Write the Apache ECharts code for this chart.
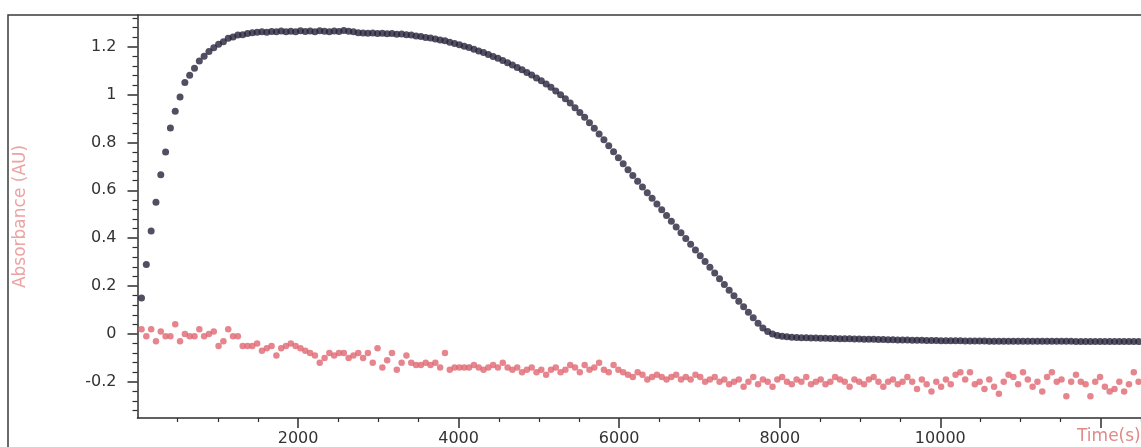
<!DOCTYPE html>
<html>
<head>
<meta charset="utf-8">
<script src="https://cdn.jsdelivr.net/npm/echarts@6/dist/echarts.min.js"></script>
<style>
  html, body { margin: 0; padding: 0; background: #fff; }
  #chart { width: 1141px; height: 447px; }
</style>
</head>
<body>
<div id="chart"></div>
<script>
// readings taken every 60 s, first one at 50 s
const firstTime = 50
const sampleStep = 60

// dark series (absorbance, AU)
const sampleA = [
  0.15, 0.29, 0.43, 0.55, 0.665, 0.76, 0.86, 0.93, 0.99, 1.05,
  1.08, 1.11, 1.14, 1.16, 1.18, 1.195, 1.21, 1.22, 1.235, 1.24,
  1.248, 1.25, 1.255, 1.258, 1.26, 1.262, 1.26, 1.263, 1.262, 1.265,
  1.262, 1.264, 1.262, 1.266, 1.263, 1.265, 1.262, 1.266, 1.264, 1.262,
  1.265, 1.263, 1.267, 1.264, 1.262, 1.258, 1.257, 1.256, 1.257, 1.255,
  1.256, 1.254, 1.255, 1.252, 1.253, 1.25, 1.248, 1.244, 1.242, 1.238,
  1.236, 1.232, 1.228, 1.224, 1.218, 1.213, 1.208, 1.202, 1.196, 1.189,
  1.182, 1.175, 1.167, 1.159, 1.151, 1.142, 1.133, 1.123, 1.113, 1.103,
  1.092, 1.081, 1.069, 1.057, 1.044, 1.03, 1.015, 0.999, 0.982, 0.964,
  0.945, 0.925, 0.905, 0.882, 0.859, 0.835, 0.811, 0.786, 0.761, 0.736,
  0.711, 0.686, 0.662, 0.638, 0.614, 0.59, 0.567, 0.543, 0.519, 0.495,
  0.471, 0.447, 0.423, 0.399, 0.375, 0.351, 0.327, 0.303, 0.279, 0.255,
  0.231, 0.207, 0.183, 0.16, 0.137, 0.114, 0.091, 0.068, 0.045, 0.025,
  0.01, 0.0, -0.006, -0.01, -0.012, -0.014, -0.015, -0.016, -0.016, -0.017,
  -0.017, -0.018, -0.018, -0.019, -0.019, -0.02, -0.02, -0.02, -0.021, -0.021,
  -0.022, -0.022, -0.022, -0.023, -0.023, -0.024, -0.024, -0.025, -0.025, -0.025,
  -0.026, -0.026, -0.026, -0.027, -0.027, -0.027, -0.028, -0.028, -0.028, -0.028,
  -0.028, -0.029, -0.029, -0.029, -0.029, -0.029, -0.03, -0.03, -0.03, -0.03,
  -0.03, -0.03, -0.03, -0.03, -0.031, -0.031, -0.031, -0.031, -0.031, -0.031,
  -0.031, -0.031, -0.031, -0.031, -0.032, -0.032, -0.032, -0.032, -0.032, -0.032,
  -0.032, -0.032, -0.032, -0.032, -0.032, -0.032, -0.032, -0.032
]

// red series (blank)
const sampleB = [
  0.02, -0.01, 0.02, -0.03, 0.01, -0.01, -0.01, 0.04, -0.03, 0.0,
  -0.01, -0.01, 0.02, -0.01, 0.0, 0.01, -0.05, -0.03, 0.02, -0.01,
  -0.01, -0.05, -0.05, -0.05, -0.04, -0.07, -0.06, -0.05, -0.09, -0.06,
  -0.05, -0.04, -0.05, -0.06, -0.07, -0.08, -0.09, -0.12, -0.1, -0.08,
  -0.09, -0.08, -0.08, -0.1, -0.09, -0.08, -0.1, -0.08, -0.12, -0.06,
  -0.14, -0.11, -0.08, -0.15, -0.12, -0.09, -0.12, -0.13, -0.13, -0.12,
  -0.13, -0.12, -0.14, -0.08, -0.15, -0.14, -0.14, -0.14, -0.14, -0.13,
  -0.14, -0.15, -0.14, -0.13, -0.14, -0.12, -0.14, -0.15, -0.14, -0.16,
  -0.15, -0.14, -0.16, -0.15, -0.17, -0.15, -0.14, -0.16, -0.15, -0.13,
  -0.14, -0.16, -0.13, -0.15, -0.14, -0.12, -0.15, -0.16, -0.13, -0.15,
  -0.16, -0.17, -0.18, -0.16, -0.17, -0.19, -0.18, -0.17, -0.18, -0.19,
  -0.18, -0.17, -0.19, -0.18, -0.19, -0.17, -0.18, -0.2, -0.19, -0.18,
  -0.2, -0.19, -0.21, -0.2, -0.19, -0.22, -0.2, -0.18, -0.21, -0.19,
  -0.2, -0.22, -0.19, -0.18, -0.2, -0.21, -0.19, -0.2, -0.18, -0.21,
  -0.2, -0.19, -0.21, -0.2, -0.18, -0.19, -0.2, -0.22, -0.19, -0.2,
  -0.21, -0.19, -0.18, -0.2, -0.22, -0.2, -0.19, -0.21, -0.2, -0.18,
  -0.2, -0.23, -0.19, -0.21, -0.24, -0.2, -0.22, -0.19, -0.21, -0.17,
  -0.16, -0.19, -0.16, -0.21, -0.2, -0.23, -0.19, -0.22, -0.25, -0.2,
  -0.17, -0.18, -0.21, -0.16, -0.19, -0.22, -0.2, -0.24, -0.18, -0.16,
  -0.2, -0.19, -0.26, -0.2, -0.17, -0.2, -0.21, -0.26, -0.2, -0.18,
  -0.22, -0.24, -0.23, -0.2, -0.24, -0.21, -0.16, -0.2
]

// axis ticks
const xLabels = [2000, 4000, 6000, 8000, 10000]
const xMajor = [2000, 4000, 6000, 8000, 10000, 12000]
const xMinor = [500, 1000, 1500, 2500, 3000, 3500, 4500, 5000, 5500, 6500, 7000, 7500,
  8500, 9000, 9500, 10500, 11000, 11500, 12500]
const yMajor = [-0.2, 0, 0.2, 0.4, 0.6, 0.8, 1, 1.2]
const yMinor = [-0.32, -0.28, -0.24, -0.16, -0.12, -0.08, -0.04, 0.04, 0.08, 0.12, 0.16,
  0.24, 0.28, 0.32, 0.36, 0.44, 0.48, 0.52, 0.56, 0.64, 0.68, 0.72, 0.76,
  0.84, 0.88, 0.92, 0.96, 1.04, 1.08, 1.12, 1.16, 1.24, 1.28, 1.32]

const toPairs = (vals) => vals.map((v, i) => [firstTime + i * sampleStep, v])

const xMin = 0
const xMax = 12500
const yMin = -0.351
const yMax = 1.332

const labelFont = { fontFamily: 'DejaVu Sans', fontSize: 16, color: '#333' }
const axisColor = '#2e2e2e'

const chart = echarts.init(document.getElementById('chart'))
chart.setOption({
  animation: false,
  backgroundColor: '#fff',
  grid: { left: 137.5, top: 15, right: 0, bottom: 29 },
  xAxis: [
    {
      type: 'value',
      min: xMin,
      max: xMax,
      axisLine: { onZero: false, lineStyle: { color: axisColor, width: 1.5 } },
      axisTick: { customValues: xMajor, length: 10, lineStyle: { color: axisColor, width: 1.5 } },
      axisLabel: { customValues: xLabels, margin: 13, formatter: (v) => String(v), ...labelFont },
      splitLine: { show: false },
    },
    {
      type: 'value',
      min: xMin,
      max: xMax,
      position: 'bottom',
      axisLine: { show: false, onZero: false },
      axisTick: { customValues: xMinor, length: 4, lineStyle: { color: axisColor, width: 1.2 } },
      axisLabel: { show: false },
      splitLine: { show: false },
    },
  ],
  yAxis: [
    {
      type: 'value',
      min: yMin,
      max: yMax,
      name: 'Absorbance (AU)',
      nameLocation: 'middle',
      nameGap: 108,
      nameTextStyle: { color: '#eba3a3', fontFamily: 'DejaVu Sans', fontSize: 17 },
      axisLine: { show: true, onZero: false, lineStyle: { color: axisColor, width: 1.5 } },
      axisTick: { show: true, customValues: yMajor, length: 10, lineStyle: { color: axisColor, width: 1.5 } },
      axisLabel: { customValues: yMajor, margin: 21, formatter: (v) => String(v), ...labelFont },
      splitLine: { show: false },
    },
    {
      type: 'value',
      min: yMin,
      max: yMax,
      position: 'left',
      axisLine: { show: false, onZero: false },
      axisTick: { show: true, customValues: yMinor, length: 5, lineStyle: { color: axisColor, width: 1.2 } },
      axisLabel: { show: false },
      splitLine: { show: false },
    },
  ],
  graphic: [
    {
      type: 'rect',
      shape: { x: 8, y: 15, width: 1400, height: 600 },
      style: { fill: 'none', stroke: '#3a3a3a', lineWidth: 1.5 },
      z: 0,
    },
    {
      type: 'text',
      left: 1077,
      top: 428,
      style: { text: 'Time(s)', fill: '#e08a8a', font: '17px "DejaVu Sans"' },
    },
  ],
  series: [
    {
      type: 'scatter',
      name: 'sample',
      data: toPairs(sampleA),
      symbol: 'circle',
      symbolSize: 7,
      itemStyle: { color: '#25233a' },
    },
    {
      type: 'scatter',
      name: 'blank',
      data: toPairs(sampleB),
      symbol: 'circle',
      symbolSize: 6.5,
      itemStyle: { color: '#e06670' },
    },
  ],
})
</script>
</body>
</html>
